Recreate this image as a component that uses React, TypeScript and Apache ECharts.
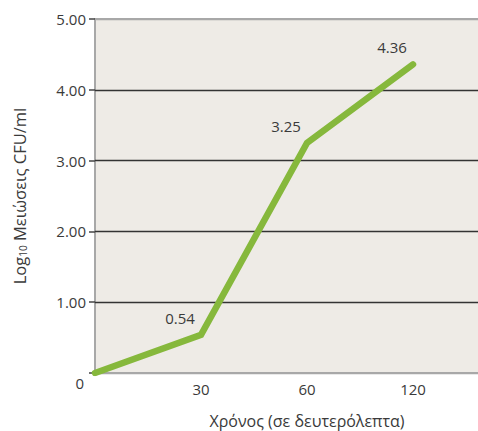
import React, { useEffect, useRef } from "react";
import * as echarts from "echarts";

const timeCategories = ["0", "30", "60", "120"];
const logReductions = [0, 0.54, 3.25, 4.36];
const yTicks = [0, 1, 2, 3, 4, 5];

const FONT = "'Open Sans', 'Noto Sans', sans-serif";
const TEXT = "#3a3a3a";

export default function App() {
  const ref = useRef<HTMLDivElement>(null);
  useEffect(() => {
    if (!ref.current) return;
    const chart = echarts.init(ref.current, null, { renderer: "svg" });
    chart.setOption({
      animation: false,
      textStyle: { fontFamily: FONT },
      grid: {
        left: 95,
        top: 19,
        height: 354,
        width: 424,
        outerBoundsMode: "none",
        containLabel: false,
        show: true,
        backgroundColor: "#eeebe6",
        borderColor: "#a8a8a8",
        borderWidth: 2,
      },
      xAxis: {
        type: "category",
        data: timeCategories,
        boundaryGap: false,
        max: 4,
        axisLine: { show: false },
        axisTick: { show: false },
        splitLine: { show: false },
        axisLabel: {
          color: TEXT,
          fontSize: 15,
          fontFamily: FONT,
          margin: 8,
          formatter: (v: any) => (v == null || v === "0" || v === "undefined" ? "" : v),
        },
        name: "Χρόνος (σε δευτερόλεπτα)",
        nameLocation: "middle",
        nameGap: 40,
        nameTextStyle: { color: TEXT, fontSize: 16, fontFamily: FONT },
      },
      yAxis: {
        type: "value",
        min: yTicks[0],
        max: yTicks[yTicks.length - 1],
        interval: 1,
        axisLine: { show: false },
        axisTick: { show: true, length: 6, lineStyle: { color: "#444", width: 1.5 } },
        splitLine: {
          show: true,
          lineStyle: {
            color: ["#a8a8a8", "#333333", "#333333", "#333333", "#333333", "#a8a8a8"],
            width: 1.3,
          },
        },
        axisLabel: {
          color: TEXT,
          fontSize: 15,
          fontFamily: FONT,
          margin: 9,
          formatter: (v: number) => (v === 0 ? "{z|0}" : v.toFixed(2)),
          rich: {
            z: { color: TEXT, fontSize: 15, fontFamily: FONT, padding: [20, 2, 0, 0] },
          },
        },
        name: "{a|Log}{s|10}{a| Μειώσεις CFU/ml}",
        nameLocation: "middle",
        nameRotate: 90,
        nameGap: 67,
        nameTextStyle: {
          color: TEXT,
          fontSize: 16.5,
          fontFamily: FONT,
          rich: {
            a: { color: TEXT, fontSize: 16.5, fontFamily: FONT },
            s: { color: TEXT, fontSize: 10, fontFamily: FONT, verticalAlign: "bottom", padding: [7, 0, 0, 0] },
          },
        },
      },
      series: [
        {
          type: "line",
          data: logReductions,
          symbol: "circle",
          symbolSize: 1,
          showSymbol: true,
          itemStyle: { color: "#86b83c" },
          lineStyle: { color: "#86b83c", width: 6.5, cap: "round", join: "miter" },
          label: {
            show: true,
            position: "top",
            distance: 0,
            offset: [-21, -9],
            color: TEXT,
            fontSize: 15,
            fontFamily: FONT,
            formatter: (p: any) => (p.value > 0 ? p.value.toFixed(2) : ""),
          },
        },
      ],
    });
    return () => chart.dispose();
  }, []);
  return (
    <div
      ref={ref}
      style={{ position: "fixed", left: 0, top: 0, width: 478, height: 431, background: "#fff" }}
    />
  );
}
